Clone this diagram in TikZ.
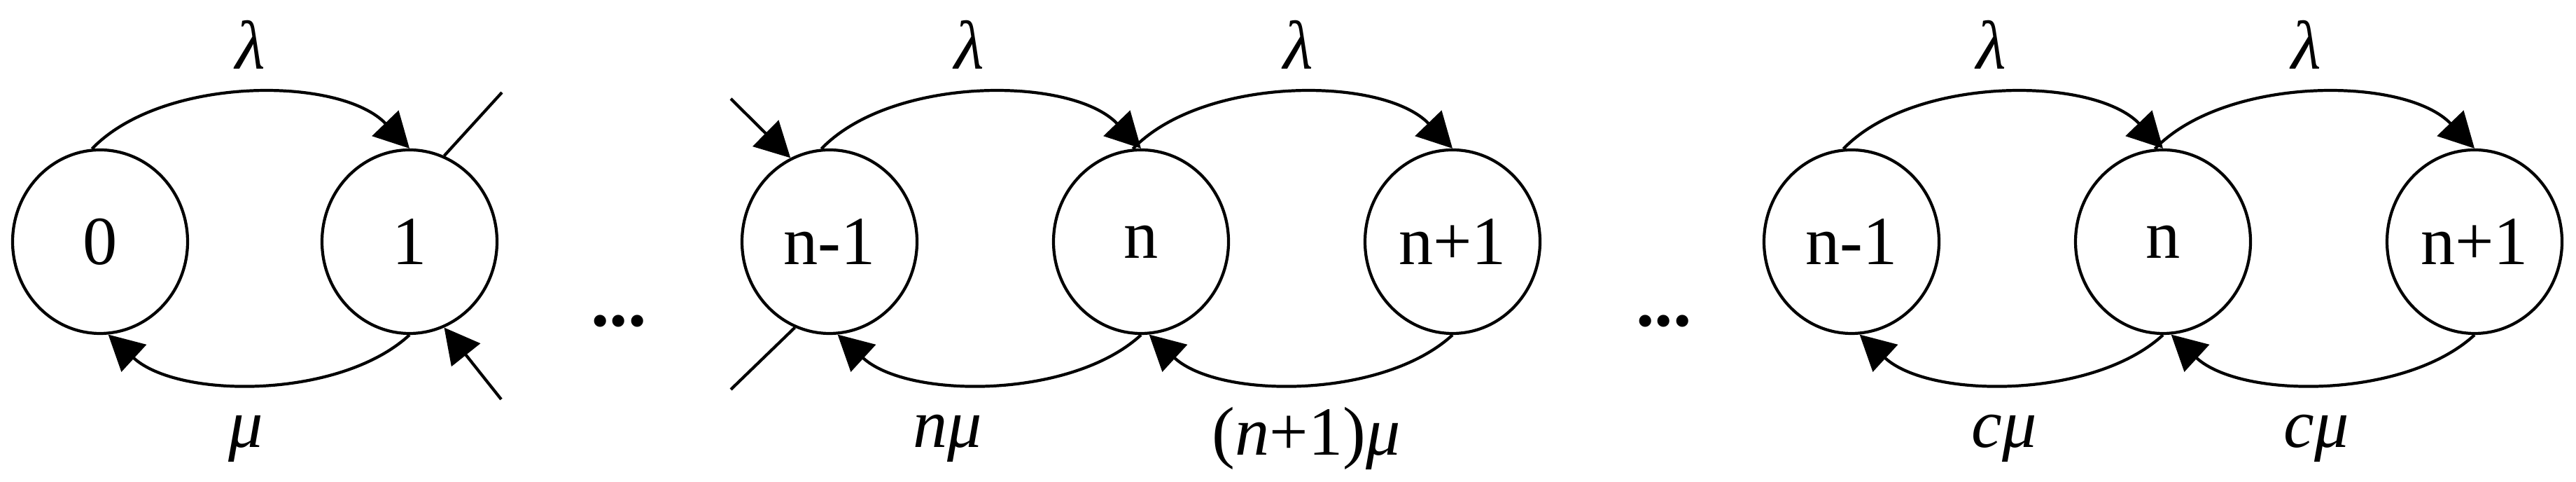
\documentclass[tikz,border=0pt]{standalone}
\usepackage{fontspec}
\setmainfont{Liberation Serif}
\usetikzlibrary{shapes.geometric,arrows.meta}
\begin{document}
\begin{tikzpicture}[
  st/.style={ellipse,draw,line width=1.2pt,minimum width=2.5cm,minimum height=2.62cm,inner sep=0pt,font=\fontsize{28}{30}\selectfont},
  ln/.style={line width=1.2pt},
  ar/.style={line width=1.2pt,-{Triangle[length=0.5cm,width=0.52cm]}},
  lb/.style={font=\fontsize{28}{30}\selectfont\itshape},
  dt/.style={font=\fontsize{30}{32}\selectfont\bfseries}]
\useasboundingbox (0,0) rectangle (36.8,6.88);
\foreach \n/\x/\t in {a/1.43/0,b/5.85/1,c/11.85/n-1,d/16.30/n,e/20.75/n+1,f/26.45/n-1,g/30.90/n,h/35.35/n+1}
  \node[st] (\n) at (\x,3.43) {\t};
\foreach \p/\q in {a/b,c/d,d/e,f/g,g/h}{
  \draw[ar] (\p.95) .. controls +(1,1.04) and +(-1,1.04) .. (\q.90);
  \draw[ar] (\q.270) .. controls +(-1,-0.92) and +(1,-0.92) .. (\p.275);
}
\node[lb] (l1) at (3.58,6.24) {λ};
\node[lb] (l2) at (13.85,6.24) {λ};
\node[lb] (l3) at (18.55,6.24) {λ};
\node[lb] (l4) at (28.45,6.24) {λ};
\node[lb] (l5) at (32.95,6.24) {λ};
\node[lb] (m1) at (3.51,0.62) {μ};
\node[lb] (m2) at (13.54,0.62) {nμ};
\node[lb] (m3) at (18.66,0.62) {\upshape(\itshape n\upshape+1)\itshape μ};
\node[lb] (m4) at (28.63,0.62) {cμ};
\node[lb] (m5) at (33.09,0.62) {cμ};
\node[dt] (d1) at (8.84,2.3) {...};
\node[dt] (d2) at (23.77,2.3) {...};
\coordinate (s1) at (7.17,5.56);
\coordinate (s2) at (7.16,1.18);
\coordinate (s3) at (10.44,5.47);
\coordinate (s4) at (10.44,1.32);
\draw[ln] (b.68) -- (s1);
\draw[ar] (s2) -- (b.-68);
\draw[ar] (s3) -- (c.115);
\draw[ln] (c.-112) -- (s4);
\end{tikzpicture}
\end{document}
